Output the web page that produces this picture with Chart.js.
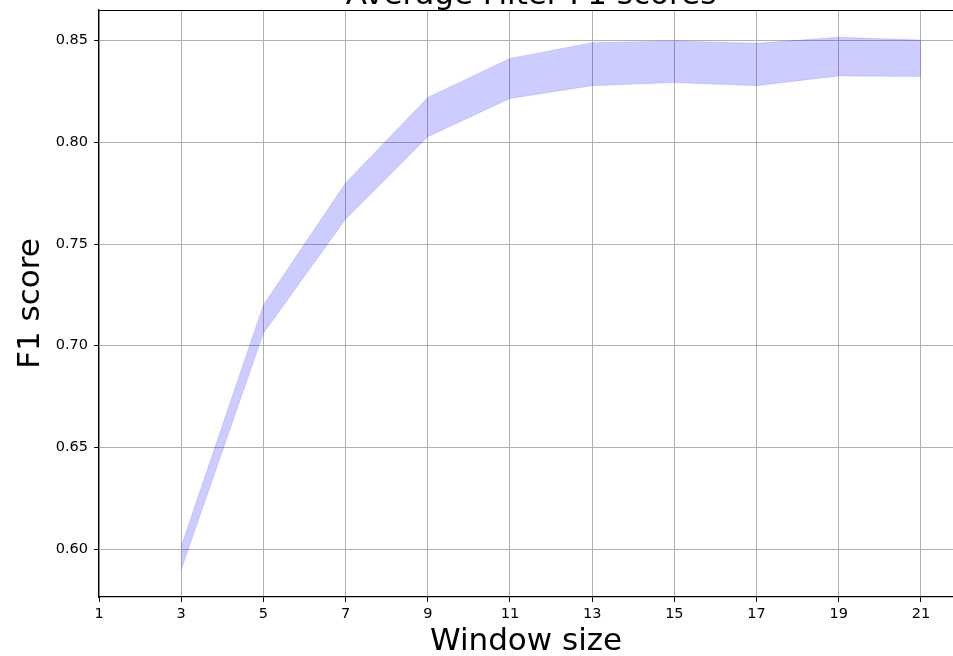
<!DOCTYPE html>
<html>
<head>
<meta charset="utf-8">
<script src="https://cdn.jsdelivr.net/npm/chart.js@4/dist/chart.umd.min.js"></script>
<style>
  html, body { margin: 0; padding: 0; background: #ffffff; }
  #wrap { width: 953px; height: 656px; position: relative; }
</style>
</head>
<body>
<div id="wrap"><canvas id="c" width="953" height="656"></canvas></div>
<script>
const chartTitle = "Average Filter F1 scores";
const xAxisLabel = "Window size";
const yAxisLabel = "F1 score";
const windowSizes = [3, 5, 7, 9, 11, 13, 15, 17, 19, 21];
const upperF1 = [0.6013, 0.7200, 0.7800, 0.8221, 0.8413, 0.8490, 0.8499, 0.8487, 0.8517, 0.8503];
const lowerF1 = [0.5898, 0.7061, 0.7622, 0.8028, 0.8216, 0.8279, 0.8294, 0.8279, 0.8327, 0.8324];
const xTickValues = [1, 3, 5, 7, 9, 11, 13, 15, 17, 19, 21];
const yTickValues = [0.60, 0.65, 0.70, 0.75, 0.80, 0.85];

const FONT = "'DejaVu Sans', sans-serif";

const spinesAndTitle = {
  id: 'spinesAndTitle',
  afterDraw(chart) {
    const {ctx, chartArea} = chart;
    ctx.save();
    ctx.strokeStyle = '#000000';
    ctx.lineWidth = 1.2;
    ctx.beginPath();
    ctx.moveTo(chartArea.left, chartArea.top + 0.5);
    ctx.lineTo(chartArea.right, chartArea.top + 0.5);
    ctx.stroke();
    ctx.fillStyle = '#000000';
    ctx.font = "31px " + FONT;
    ctx.textAlign = 'center';
    ctx.textBaseline = 'alphabetic';
    ctx.fillText(chartTitle, 531, 4);
    ctx.restore();
  }
};

const toPts = (ys) => windowSizes.map((x, i) => ({x: x, y: ys[i]}));

new Chart(document.getElementById('c'), {
  type: 'line',
  data: {
    datasets: [
      {
        label: 'lower',
        data: toPts(lowerF1),
        borderColor: 'rgba(0,0,255,0.12)',
        borderWidth: 1,
        pointRadius: 0,
        tension: 0,
        fill: false
      },
      {
        label: 'upper',
        data: toPts(upperF1),
        borderColor: 'rgba(0,0,255,0.12)',
        borderWidth: 1,
        pointRadius: 0,
        tension: 0,
        backgroundColor: 'rgba(0,0,255,0.2)',
        fill: '-1'
      }
    ]
  },
  options: {
    responsive: false,
    animation: false,
    layout: { padding: { top: 10, right: 0, left: 0, bottom: 0 } },
    plugins: {
      legend: { display: false },
      tooltip: { enabled: false },
      title: { display: false }
    },
    scales: {
      x: {
        type: 'linear',
        min: 1,
        max: 21.78,
        afterBuildTicks: (s) => { s.ticks = xTickValues.map(v => ({value: v})); },
        afterFit: (s) => { s.height = 59; s.paddingLeft = 0; s.paddingRight = 0; },
        ticks: {
          color: '#000000',
          font: { family: FONT, size: 14.5 },
          padding: 4,
          maxRotation: 0,
          autoSkip: false,
          callback: (v) => String(v)
        },
        grid: {
          color: '#b0b0b0',
          lineWidth: 1,
          tickColor: '#000000',
          tickLength: 5,
          drawTicks: true
        },
        border: { display: true, color: '#000000', width: 1.2 },
        title: {
          display: true,
          text: xAxisLabel,
          color: '#000000',
          font: { family: FONT, size: 31 },
          padding: { top: 0, bottom: -5 }
        }
      },
      y: {
        type: 'linear',
        min: 0.5764,
        max: 0.8651,
        afterBuildTicks: (s) => { s.ticks = yTickValues.map(v => ({value: v})); },
        afterFit: (s) => { s.width = 99; s.paddingTop = 0; s.paddingBottom = 0; },
        ticks: {
          color: '#000000',
          font: { family: FONT, size: 14.5 },
          padding: 6,
          callback: (v) => Number(v).toFixed(2)
        },
        grid: {
          color: '#b0b0b0',
          lineWidth: 1,
          tickColor: '#000000',
          tickLength: 5,
          drawTicks: true
        },
        border: { display: true, color: '#000000', width: 1.2 },
        title: {
          display: true,
          text: yAxisLabel,
          color: '#000000',
          font: { family: FONT, size: 31 },
          padding: { top: 12, bottom: 0 }
        }
      }
    }
  },
  plugins: [spinesAndTitle]
});
</script>
</body>
</html>
